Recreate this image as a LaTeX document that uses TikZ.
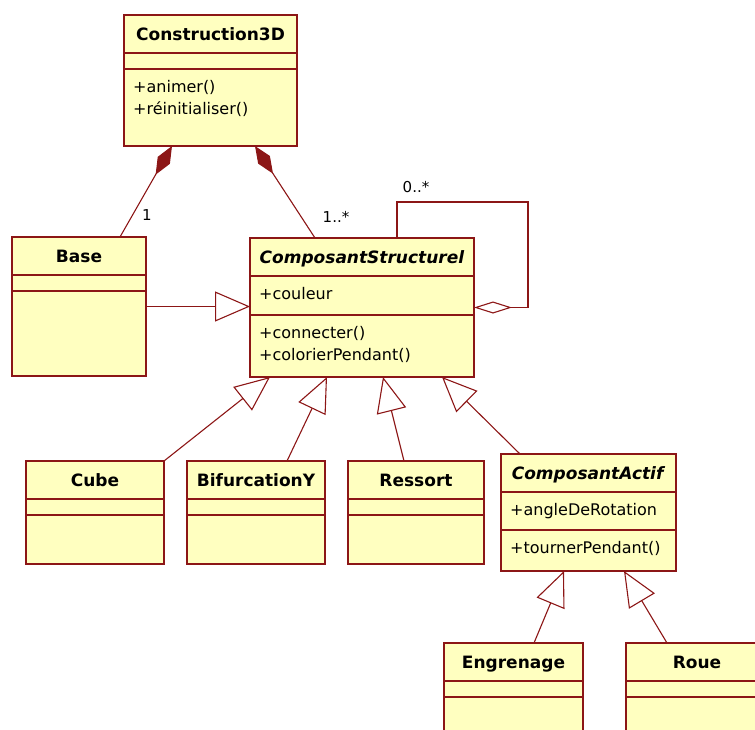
\documentclass[tikz,border=0pt]{standalone}
\usepackage{fontspec}
\setmainfont{DejaVu Sans}
\usetikzlibrary{arrows.meta, calc}
\definecolor{umlred}{RGB}{140,22,22}
\definecolor{umlfill}{RGB}{255,255,192}
\tikzset{
  classbox/.style={draw=umlred, fill=umlfill, line width=1.3pt, rectangle,
    inner sep=0pt, outer sep=0pt, anchor=north west},
  umlline/.style={draw=umlred, line width=1.3pt},
  classname/.style={font=\fontsize{17}{20}\selectfont\bfseries, anchor=base, inner sep=0pt},
  member/.style={font=\fontsize{16}{22}\selectfont, anchor=base west, inner sep=0pt},
  mult/.style={font=\fontsize{15}{18}\selectfont, inner sep=0pt},
  conn/.style={draw=umlred, line width=1.1pt},
  gen/.style={conn, -{Triangle[open, length=35pt, width=30pt]}},
  compo/.style={conn, {Diamond[length=33pt, width=14pt]}-},
  aggr/.style={conn, -{Diamond[open, length=38pt, width=12pt]}},
}
% name, left, top, width, attribute height, operation height, title, attributes, operations
\newcommand{\umlclass}[9]{%
  \node[classbox, minimum width=#4*1pt, minimum height={(38+#5+#6)*1pt}] (#1) at (#2,#3) {};
  \draw[umlline] ([yshift=-38pt]#1.north west) -- ([yshift=-38pt]#1.north east);
  \draw[umlline] ([yshift={-(38+#5)*1pt}]#1.north west) -- ([yshift={-(38+#5)*1pt}]#1.north east);
  \node[classname] (#1-name) at ([yshift=-25.5pt]#1.north) {#7};
  \node[member] (#1-attr) at ([xshift=9pt,yshift=-61pt]#1.north west)
    {\begin{tabular}[t]{@{}l@{}}#8\end{tabular}};
  \node[member] (#1-ops) at ([xshift=9pt,yshift={-(61+#5)*1pt}]#1.north west)
    {\begin{tabular}[t]{@{}l@{}}#9\end{tabular}};
}

\begin{document}
\begin{tikzpicture}[x=1pt, y=-1pt]
  \useasboundingbox (0,0) rectangle (755,729);
  \clip (0,0) rectangle (755,729);

  % classes
  \umlclass{c3d}{124}{15}{173}{16}{77}{Construction3D}{}{+animer()\\+réinitialiser()}
  \umlclass{base}{12}{237}{134}{16}{85}{Base}{}{}
  \umlclass{cs}{250}{238}{224}{39}{62}{\textit{ComposantStructurel}}{+couleur}{+connecter()\\+colorierPendant()}
  \umlclass{cube}{26}{461}{138}{16}{49}{Cube}{}{}
  \umlclass{bif}{187}{461}{138}{16}{49}{BifurcationY}{}{}
  \umlclass{ress}{348}{461}{136}{16}{49}{Ressort}{}{}
  \umlclass{ca}{501}{454}{175}{38}{41}{\textit{ComposantActif}}{+angleDeRotation}{+tournerPendant()}
  \umlclass{engr}{444}{643}{139}{16}{60}{Engrenage}{}{}
  \umlclass{roue}{626}{643}{142}{16}{60}{Roue}{}{}

  % composition
  \draw[compo] ([xshift=48pt]c3d.south west) -- ([xshift=108pt]base.north west);
  \draw[compo] ([xshift=131pt]c3d.south west) -- ([xshift=65pt]cs.north west);
  \node[mult] (m-base) at (147,215) {1};
  \node[mult] (m-cs) at (336,217) {1..*};

  % self aggregation
  \draw[aggr] ([xshift=147pt]cs.north west) -- ++(0,-36) -| ([xshift=54pt]cs.east) -- (cs.east);
  \node[mult] (m-self) at (416,187) {0..*};

  % generalization
  \draw[gen] (base.east) -- (base.east -| cs.west);
  \draw[gen] (cube.north east) -- ([xshift=20pt]cs.south west);
  \draw[gen] ([xshift=100pt]bif.north west) -- ([xshift=77pt]cs.south west);
  \draw[gen] ([xshift=56pt]ress.north west) -- ([xshift=133pt]cs.south west);
  \draw[gen] ([xshift=19pt]ca.north west) -- ([xshift=192pt]cs.south west);
  \draw[gen] ([xshift=90pt]engr.north west) -- ([xshift=63pt]ca.south west);
  \draw[gen] ([xshift=41pt]roue.north west) -- ([xshift=123pt]ca.south west);
\end{tikzpicture}
\end{document}
